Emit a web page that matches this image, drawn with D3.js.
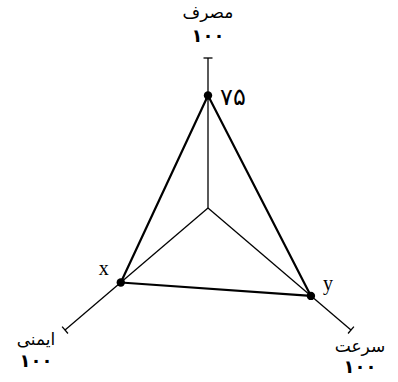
<!DOCTYPE html>
<html>
<head>
<meta charset="utf-8">
<script src="https://cdn.jsdelivr.net/npm/d3@7"></script>
<style>
body { margin: 0; background: #fff; }
</style>
</head>
<body>
<div id="chart-area"></div>
<script>
// axes of the chart (name, max label, angle in degrees, screen coords)
var axisNames = ['مصرف', 'سرعت', 'ایمنی'];
var axisMax = ['۱۰۰', '۱۰۰', '۱۰۰'];
var values = [75, 72, 61];
var pointLabels = ['۷۵', 'y', 'x'];

var def = {
    width: 398,
    height: 382,
    cx: 208,
    cy: 208
};
var angles = [-90, 40.5, 139.5];
var lens = [150, 188, 188];

var svg = d3.select('#chart-area').append('svg')
    .attr('width', def.width)
    .attr('height', def.height);
var g = svg.append('g')
    .attr('transform', 'translate(' + def.cx + ',' + def.cy + ')');

var scales = lens.map(function(l) {
    return d3.scaleLinear().domain([0, 100]).range([0, l]);
});

function pos(i, v) {
    var a = angles[i] * Math.PI / 180;
    var r = scales[i](v);
    return [r * Math.cos(a), r * Math.sin(a)];
}

// axes
axisNames.forEach(function(n, i) {
    var end = pos(i, 100);
    g.append('line')
        .attr('x1', 0).attr('y1', 0)
        .attr('x2', end[0]).attr('y2', end[1])
        .attr('stroke', '#000')
        .attr('stroke-width', 1.3);
    // end cap
    var a = angles[i] * Math.PI / 180;
    var px = -Math.sin(a) * 4.5, py = Math.cos(a) * 4.5;
    g.append('line')
        .attr('x1', end[0] - px).attr('y1', end[1] - py)
        .attr('x2', end[0] + px).attr('y2', end[1] + py)
        .attr('stroke', '#000')
        .attr('stroke-width', 1.3);
});

// polygon
var pts = values.map(function(v, i) { return pos(i, v); });
g.append('path')
    .attr('d', d3.line()(pts) + 'Z')
    .attr('fill', 'none')
    .attr('stroke', '#000')
    .attr('stroke-width', 2.2)
    .attr('stroke-linejoin', 'round');

g.selectAll('circle')
    .data(pts)
    .enter()
    .append('circle')
    .attr('cx', function(d) { return d[0]; })
    .attr('cy', function(d) { return d[1]; })
    .attr('r', 4.2)
    .attr('fill', '#000');

// point labels
var plOff = [[12, 9, 'start', 'DejaVu Sans', 24], [12, -6, 'start', 'Liberation Serif', 20], [-12, -7, 'end', 'Liberation Serif', 20]];
pointLabels.forEach(function(t, i) {
    g.append('text')
        .attr('x', pts[i][0] + plOff[i][0])
        .attr('y', pts[i][1] + plOff[i][1])
        .attr('text-anchor', plOff[i][2])
        .attr('font-family', plOff[i][3])
        .attr('font-size', plOff[i][4] + 'px')
        .text(t);
});

// axis labels
var labPos = [[0, -190, -166], [152, 144, 165], [-172, 137, 159]];
axisNames.forEach(function(n, i) {
    g.append('text')
        .attr('x', labPos[i][0])
        .attr('y', labPos[i][1])
        .attr('text-anchor', 'middle')
        .attr('font-family', 'DejaVu Sans')
        .attr('font-size', '17px')
        .text(n);
    g.append('text')
        .attr('x', labPos[i][0])
        .attr('y', labPos[i][2])
        .attr('text-anchor', 'middle')
        .attr('font-family', 'DejaVu Sans')
        .attr('font-weight', 'bold')
        .attr('font-size', '18px')
        .text(axisMax[i]);
});
</script>
</body>
</html>
